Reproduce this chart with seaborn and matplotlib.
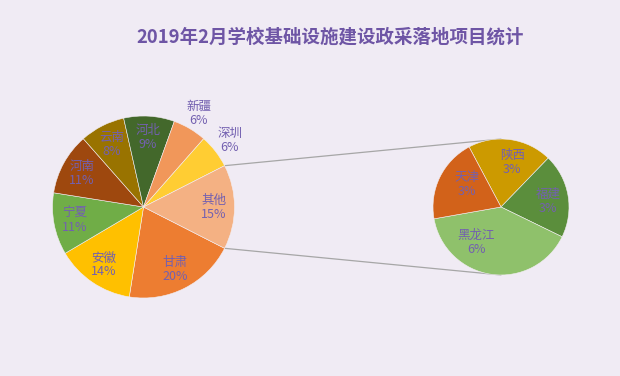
import numpy as np
import seaborn as sns
import matplotlib.pyplot as plt

# main pie (percent of total), clockwise from the "其他" slice
main_labels = ['甘肃', '安徽', '宁夏', '河南', '云南', '河北', '新疆', '深圳', '其他']
main_values = [20, 14, 11, 11, 8, 9, 6, 6, 15]
main_colors = ['#ED7D31', '#FFC000', '#70AD47', '#9E480E', '#997300',
               '#43682B', '#F1975A', '#FFCD33', '#F4B183']

# breakdown of "其他"
sub_labels = ['陕西', '福建', '黑龙江', '天津']
sub_values = [3, 3, 6, 3]
sub_colors = ['#CC9A00', '#5B8E3C', '#8FC16B', '#D2621A']

title = '2019年2月学校基础设施建设政采落地项目统计'

BG = '#F0EBF4'
TXT = '#7360B0'

sns.set_theme(style='white', rc={'figure.facecolor': BG, 'axes.facecolor': BG})
plt.rcParams['font.family'] = ['Noto Sans CJK SC', 'DejaVu Sans']

fig = plt.figure(figsize=(6.2, 3.76), dpi=100)
ax = fig.add_axes([0, 0, 1, 1])

H = 376
c1, r1 = (143.5, H - 207), 91
c2, r2 = (501, H - 207), 68

other = main_values[-1]
start = -other / 100 * 360 / 2

w1, _ = ax.pie(main_values, colors=main_colors, center=c1, radius=r1,
               startangle=start, counterclock=False,
               wedgeprops=dict(edgecolor='#F3EEF3', linewidth=0.4))
w2, _ = ax.pie(sub_values, colors=sub_colors, center=c2, radius=r2,
               startangle=118, counterclock=False,
               wedgeprops=dict(edgecolor='#F3EEF3', linewidth=0.4))

outside = {'新疆': 1.19, '深圳': 1.2}
for w, lab, v in zip(w1, main_labels, main_values):
    a = np.deg2rad((w.theta1 + w.theta2) / 2)
    f = outside.get(lab, 0.77)
    x, y = c1[0] + f * r1 * np.cos(a), c1[1] + f * r1 * np.sin(a)
    ax.text(x, y, f'{lab}\n{v}%', ha='center', va='center', color=TXT,
            fontsize=9, linespacing=1.1)

# label placement in the second pie: (radius fraction, angle shift)
sub_pos = {'陕西': (0.68, -6), '福建': (0.7, -3), '黑龙江': (0.64, -27), '天津': (0.6, -8)}
for w, lab, v in zip(w2, sub_labels, sub_values):
    f, da = sub_pos[lab]
    a = np.deg2rad((w.theta1 + w.theta2) / 2 + da)
    x, y = c2[0] + f * r2 * np.cos(a), c2[1] + f * r2 * np.sin(a)
    ax.text(x, y, f'{lab}\n{v}%', ha='center', va='center', color=TXT,
            fontsize=9, linespacing=1.1)

# connector lines from the "其他" slice to the second pie
ow = w1[-1]
for ang, end in [(ow.theta1, (c2[0], c2[1] - r2)), (ow.theta2, (c2[0], c2[1] + r2))]:
    a = np.deg2rad(ang)
    p = (c1[0] + r1 * np.cos(a), c1[1] + r1 * np.sin(a))
    ax.plot([p[0], end[0]], [p[1], end[1]], color='#A6A6A6', lw=0.9, zorder=0)

ax.set_xlim(0, 620)
ax.set_ylim(0, H)
ax.set_aspect('equal')
ax.axis('off')

fig.text(0.532, 1 - 37 / H, title, ha='center', va='center', fontsize=13.3,
         fontweight='bold', color='#6E55A5')

fig.savefig('out.png', dpi=100, facecolor=BG)
